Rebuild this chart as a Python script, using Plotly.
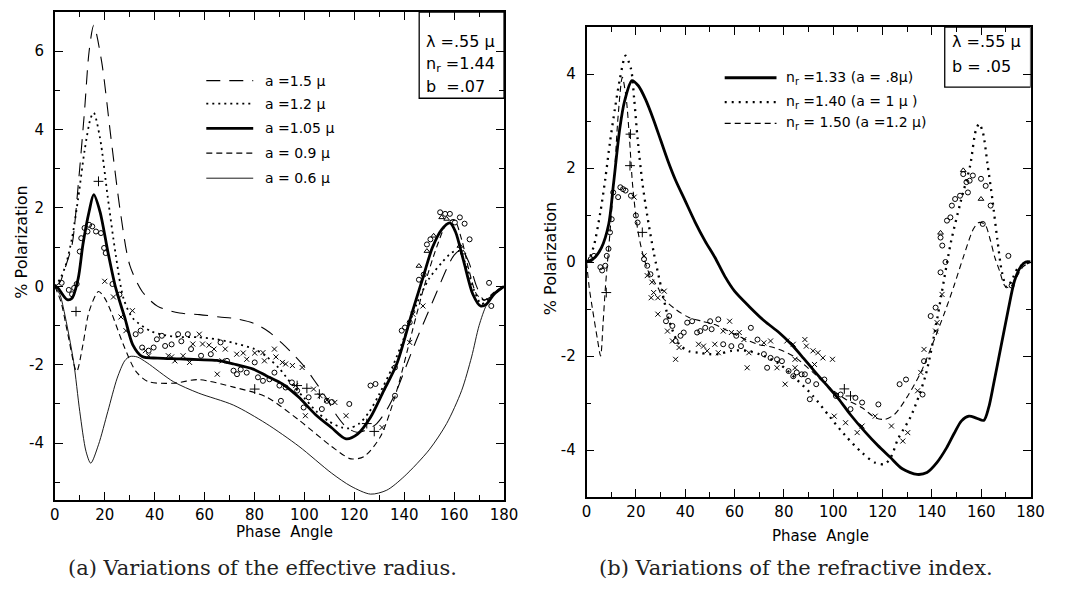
import plotly.graph_objects as go

W, H = 1077, 593

# ---------------- Left panel data: variations of effective radius ----------------
L15_x = [0, 2, 4, 6.9, 9.4, 11.9, 13.75, 15.6, 18.75, 22.5, 26.25, 30, 35, 41.25, 50, 58, 66, 72, 80, 86, 91, 95, 100, 104, 108.6, 113, 117, 121, 125, 129, 133, 137, 141, 145, 149, 153, 157, 160, 163, 166, 169, 172, 176, 180]
L15_y = [0, 0.1, 0.45, 1.06, 2.6, 4.47, 6.0, 6.66, 5.74, 3.79, 1.91, 0.55, -0.13, -0.51, -0.68, -0.72, -0.78, -0.82, -0.95, -1.17, -1.45, -1.7, -2.05, -2.4, -2.83, -3.3, -3.6, -3.72, -3.66, -3.5, -3.15, -2.65, -2.0, -1.35, -0.75, -0.15, 0.45, 0.8, 0.94, 0.6, 0.0, -0.35, -0.2, 0]

L12_x = [0, 2.2, 4.4, 6.9, 9.4, 11.9, 14.4, 15.6, 18.1, 21.25, 24.4, 27.5, 31.25, 38.75, 47.5, 57.5, 65, 72, 80, 85, 90, 95, 100, 105, 110, 115, 118, 122, 126, 130, 135, 140, 145, 150, 155, 159, 162, 165, 168, 171, 175, 180]
L12_y = [0, 0.2, 0.55, 1.23, 2.26, 3.45, 4.3, 4.43, 3.79, 2.26, 0.81, -0.3, -0.81, -1.15, -1.28, -1.3, -1.35, -1.45, -1.6, -1.8, -2.1, -2.5, -2.85, -3.2, -3.45, -3.6, -3.62, -3.5, -3.2, -2.75, -2.1, -1.3, -0.45, 0.2, 0.6, 0.86, 0.9, 0.5, -0.1, -0.45, -0.25, 0]

L105_x = [0, 1.25, 3, 5, 6.9, 9.4, 11.25, 13.75, 15.6, 18.1, 21.25, 24.4, 28.1, 31.25, 35, 41.25, 50, 57.5, 65, 71.7, 79.5, 84.7, 91.2, 97.8, 104.3, 110.8, 116.7, 121.3, 126.5, 131.8, 137, 143, 147.5, 151.3, 155, 158.3, 160.5, 163.8, 167.5, 170.6, 173, 176, 180]
L105_y = [0, -0.04, -0.2, -0.34, -0.3, 0.21, 1.06, 1.91, 2.34, 1.91, 0.89, -0.04, -0.81, -1.49, -1.79, -1.83, -1.85, -1.87, -1.89, -1.98, -2.11, -2.28, -2.49, -2.83, -3.26, -3.6, -3.89, -3.77, -3.34, -2.66, -1.98, -0.7, 0.22, 0.99, 1.45, 1.62, 1.4, 0.65, -0.2, -0.5, -0.45, -0.2, 0]

L09_x = [0, 2.5, 5, 8.75, 11.25, 13.75, 17.5, 20, 22.5, 27.5, 32.5, 37.5, 47.5, 57.5, 71.6, 84.7, 97.8, 110.8, 118.7, 123.9, 130.5, 137, 143, 148, 153, 157, 160, 163, 166, 169, 172, 176, 180]
L09_y = [0, -0.4, -1.15, -2.17, -1.49, -0.64, -0.13, -0.3, -0.64, -1.49, -2.17, -2.43, -2.47, -2.38, -2.57, -2.82, -3.41, -4.08, -4.4, -4.34, -3.83, -2.66, -1.2, 0.0, 1.0, 1.6, 1.7, 1.2, 0.4, -0.2, -0.35, -0.15, 0]

L06_x = [0, 2, 3.75, 7.5, 10, 12.5, 14.4, 17.5, 21.25, 25, 28, 30, 33, 37, 47.5, 57.5, 71.6, 84.7, 97.8, 110.8, 118.7, 126.5, 133, 140, 150, 157, 163, 167, 170, 173, 177, 180]
L06_y = [0, -0.2, -0.64, -1.91, -3.19, -4.21, -4.51, -4.04, -3.19, -2.34, -1.9, -1.79, -1.8, -1.95, -2.43, -2.72, -3.03, -3.5, -4.08, -4.76, -5.1, -5.3, -5.2, -4.85, -4.17, -3.5, -2.66, -1.8, -1.0, -0.47, -0.1, 0]

L_circ_x = [2.75, 5.6, 6.9, 7.75, 8.75, 10, 10.6, 11.9, 13.1, 13.75, 15, 16.5, 18.5, 19.75, 20.4, 23.1, 25.9, 32.4, 34.4, 35, 37.6, 39.6, 40.9, 42.9, 44.2, 46.8, 49.4, 50.7, 53.3, 54.6, 58.6, 62.5, 66.4, 69, 71.6, 73, 74.5, 76.9, 80.1, 81.4, 83.4, 86, 88, 90, 90.6, 92.5, 95, 97.1, 99.7, 101.7, 107, 109, 111, 118, 126.5, 128.5, 136.3, 136.3, 139, 140.3, 142.2, 145.9, 147.8, 149.1, 150.5, 154.4, 156.4, 158.3, 160.3, 162.3, 164.2, 166.2, 174, 174.9]
L_circ_y = [0.09, -0.09, -0.2, -0.04, 0.06, 0.89, 1.23, 1.49, 1.4, 1.57, 1.53, 1.4, 1.36, 0.98, 0.85, 0.06, -0.21, -1.22, -1.13, -1.56, -1.64, -1.56, -1.35, -1.26, -1.52, -1.48, -1.22, -1.4, -1.22, -1.6, -1.77, -1.73, -1.43, -1.9, -2.15, -2.24, -2.12, -2.2, -1.94, -2.32, -2.41, -2.37, -2.2, -2.53, -2.92, -2.58, -2.45, -2.66, -3.09, -2.83, -3.13, -2.92, -2.95, -3.0, -2.53, -2.49, -2.07, -2.79, -1.13, -1.05, -0.92, 0.17, 0.3, 1.07, 1.2, 1.89, 1.85, 1.85, 1.63, 1.76, 1.6, 1.2, 0.09, -0.5]
L_tri_x = [145.9, 149.1, 151.8, 155, 157, 162.3, 163.6]
L_tri_y = [0.52, 0.9, 1.29, 1.76, 1.72, 1.03, 0.86]
L_x_x = [20, 23.5, 26.5, 28.5, 31.1, 36.3, 37.6, 45.5, 46.8, 48.1, 51.4, 54, 55.3, 57.9, 59.2, 61.8, 63.8, 65.1, 67, 68.3, 72.9, 75.5, 76.9, 80.1, 83.4, 84, 88, 88.6, 91.2, 92.5, 95.2, 99.1, 96.5, 100.4, 103.7, 106.3, 109, 112.2, 116.7, 131.1, 142.2, 143.5, 147.5]
L_x_y = [0.13, -0.27, -0.78, -1.13, -0.62, -1.64, -1.77, -1.77, -1.8, -1.9, -1.77, -1.94, -1.47, -1.22, -1.47, -1.5, -1.6, -2.24, -1.9, -1.6, -1.73, -1.7, -1.86, -1.7, -1.69, -1.9, -1.6, -1.8, -1.94, -1.98, -2.02, -2.07, -2.53, -3.3, -2.62, -2.79, -2.9, -2.96, -3.3, -3.6, -1.43, -0.71, -0.5]
L_plus_x = [8.5, 17.5, 80.1, 97.1, 101, 106, 125, 128]
L_plus_y = [-0.64, 2.68, -2.62, -2.53, -2.6, -2.75, -3.5, -3.7]

# ---------------- Right panel data: variations of refractive index ----------------
R133_x = [0, 3, 6, 9, 10.9, 13.5, 15.4, 18.4, 21, 24, 27, 30, 33, 36, 40, 44, 48, 52, 56, 60, 66, 72, 78, 83, 88, 92, 97, 102, 107, 113, 118, 123, 128, 134, 138, 142, 146, 149, 152, 155, 158, 161, 163, 165, 168, 171, 173.5, 176, 178, 180]
R133_y = [0, 0.08, 0.3, 0.81, 1.65, 2.85, 3.42, 3.86, 3.75, 3.45, 3.05, 2.6, 2.15, 1.75, 1.3, 0.85, 0.45, 0.1, -0.3, -0.62, -0.95, -1.25, -1.5, -1.75, -2.05, -2.3, -2.6, -2.9, -3.25, -3.62, -3.9, -4.15, -4.4, -4.52, -4.48, -4.27, -3.95, -3.65, -3.38, -3.28, -3.32, -3.37, -3.1, -2.6, -1.8, -1.0, -0.4, -0.1, 0.0, 0.0]

R140_x = [0, 1, 3, 5.6, 7.6, 9.5, 11.5, 13.5, 15.8, 18, 19.3, 20.7, 22.6, 24.6, 27.2, 30.5, 33.5, 37.5, 41.5, 45.4, 49.5, 53.4, 58.7, 65.3, 71.9, 78.5, 85.2, 91.8, 98.4, 105, 111.7, 117, 120.9, 123.6, 126.2, 131.5, 137.4, 142, 144, 147.7, 151.6, 155.5, 157.8, 159.2, 160.7, 162.5, 164.5, 166.5, 168.4, 170.3, 172.3, 175, 180]
R140_y = [0, 0.06, 0.35, 1.06, 1.77, 2.55, 3.26, 3.89, 4.39, 4.11, 3.47, 2.62, 1.7, 0.99, 0.21, -0.6, -1.25, -1.75, -1.9, -1.93, -1.96, -1.96, -1.89, -1.89, -2.0, -2.18, -2.5, -2.85, -3.28, -3.7, -4.06, -4.27, -4.3, -4.13, -3.77, -3.28, -2.42, -1.25, -0.65, 0.42, 1.27, 2.05, 2.8, 2.94, 2.75, 2.1, 1.34, 0.49, -0.22, -0.54, -0.4, -0.12, 0]

R150_x = [0, 1.1, 2.4, 4.4, 5.7, 6.7, 7.7, 9.5, 11.5, 12.8, 14.5, 16.1, 17.4, 18.7, 20.7, 22.6, 25.2, 29.2, 30.9, 36.2, 41.5, 46.8, 52, 56, 61.3, 69.3, 75.9, 83.8, 91.8, 98.4, 105, 111.7, 117, 120.9, 124.9, 130.2, 135.5, 140, 145.2, 149, 152.9, 156.8, 159, 161.5, 163.5, 165.5, 167.5, 169.5, 171.5, 174, 177, 180]
R150_y = [0, -0.55, -1.0, -1.64, -2.0, -1.3, -0.5, 0.63, 2.05, 3.11, 3.93, 3.47, 2.62, 1.62, 0.7, 0.21, -0.22, -0.57, -0.76, -1.01, -1.18, -1.26, -1.33, -1.43, -1.57, -1.75, -1.82, -2.0, -2.35, -2.67, -2.92, -3.1, -3.31, -3.35, -3.24, -2.85, -2.35, -1.78, -1.07, -0.5, 0.13, 0.7, 0.84, 0.8, 0.5, 0.1, -0.2, -0.5, -0.55, -0.35, -0.1, 0]

R_circ_x = [1.7, 3, 5.6, 6.3, 7.6, 8.2, 8.9, 9.5, 10.2, 10.8, 12.8, 13.7, 14.8, 15.8, 18, 20, 20.7, 23.3, 24.6, 25.9, 32.2, 33.5, 34.8, 36.1, 38.1, 39.4, 40.8, 42.8, 44.8, 46.1, 48.1, 50.1, 50.7, 53.4, 55.4, 58.7, 60.7, 62.6, 66.6, 69.3, 71.9, 73.2, 74.6, 77.2, 79.2, 81.9, 83.8, 85.2, 87.2, 88.5, 89.8, 90.5, 93.1, 96.4, 101.1, 103, 107, 109, 111.7, 118.3, 126.9, 129.5, 136.2, 136.8, 139.5, 141.5, 143.5, 144.2, 145.5, 143.5, 146.1, 147.5, 148.1, 149.4, 151.4, 152.7, 154, 155.3, 154.6, 156.6, 159.9, 161.8, 163.8, 160.6, 171, 172.3]
R_circ_y = [0.06, 0.13, -0.11, -0.18, -0.08, 0.13, 0.28, 0.63, 0.91, 1.48, 1.38, 1.59, 1.55, 1.52, 1.41, 0.99, 0.84, 0.06, -0.08, -0.26, -1.26, -1.15, -1.36, -1.68, -1.57, -1.5, -1.29, -1.26, -1.5, -1.47, -1.4, -1.26, -1.43, -1.22, -1.75, -1.79, -1.57, -1.79, -1.4, -1.65, -1.96, -2.25, -2.04, -2.07, -2.11, -2.32, -2.43, -2.35, -2.39, -2.39, -2.53, -2.92, -2.6, -2.5, -2.85, -2.82, -3.13, -2.89, -2.99, -3.03, -2.6, -2.5, -2.82, -2.11, -1.15, -0.97, 0.52, 0.35, 0.0, -0.22, 0.88, 0.95, 1.2, 1.34, 1.41, 1.87, 1.7, 1.73, 1.48, 1.84, 1.77, 1.62, 1.2, 0.81, 0.13, -0.5]
R_tri_x = [152.7, 159.9, 143.5]
R_tri_y = [1.95, 1.34, 0.62]
R_x_x = [19.3, 23.3, 24.6, 26.5, 27.2, 26.2, 28.9, 31.5, 28.9, 32.8, 34.8, 36.1, 37.5, 45.4, 47.4, 48.9, 52, 53.4, 55.4, 58, 58.7, 61.9, 63.8, 65.1, 65.8, 71.9, 74.6, 77.2, 80.5, 81.2, 83.8, 84.5, 84.5, 88.5, 89.1, 91.8, 92.4, 93.8, 95.8, 99.7, 100.4, 105, 109.7, 111.7, 117, 123.6, 128.2, 130.2, 134.2, 135.5, 136.8, 141.5, 142.1, 144.1]
R_x_y = [1.38, 0.13, -0.29, -0.43, -0.65, -0.76, -0.76, -0.62, -1.11, -1.47, -1.68, -2.07, -1.82, -1.75, -1.79, -1.89, -1.75, -1.93, -1.47, -1.26, -1.5, -1.5, -1.65, -2.25, -1.93, -1.72, -1.68, -2.25, -2.6, -1.68, -1.75, -2.07, -2.25, -1.65, -1.79, -1.89, -2.18, -1.93, -2.04, -2.07, -3.28, -3.42, -3.63, -3.49, -3.28, -3.49, -3.81, -3.63, -2.74, -2.35, -1.86, -1.47, -1.29, -0.69]
R_plus_x = [8, 17.8, 17.6, 22.6, 104.5, 107]
R_plus_y = [-0.65, 2.72, 2.05, 0.63, -2.7, -2.85]

# tick labels
X_TICKS = [0, 20, 40, 60, 80, 100, 120, 140, 160, 180]
X_TEXT = ["0", "20", "40", "60", "80", "100", "120", "140", "160", "180"]
YL_TICKS = [-4, -2, 0, 2, 4, 6]
YL_TEXT = ["-4", "-2", "0", "2", "4", "6"]
YR_TICKS = [-4, -2, 0, 2, 4]
YR_TEXT = ["-4", "-2", "0", "2", "4"]

LEFT_LEG = ["a =1.5 μ", "a =1.2 μ", "a =1.05 μ", "a = 0.9 μ", "a = 0.6 μ"]
RIGHT_LEG = ["n<sub>r</sub> =1.33 (a = .8μ)", "n<sub>r</sub> =1.40 (a = 1 μ )", "n<sub>r</sub> = 1.50 (a =1.2 μ)"]

SANS = "DejaVu Sans"
SERIF = "DejaVu Serif"

# ---------------- styles ----------------
sty_long = dict(color="black", width=1.1, dash="14px,9px")
sty_dot = dict(color="black", width=1.8, dash="2px,4px")
sty_thick = dict(color="black", width=2.8)
sty_med = dict(color="black", width=1.1, dash="6px,4px")
sty_thin = dict(color="black", width=0.9)
sty_rdot = dict(color="black", width=2.3, dash="2px,5px")

fig = go.Figure()

def line(x, y, style, xa, ya):
    fig.add_trace(go.Scatter(x=x, y=y, mode="lines", line=dict(shape="spline", smoothing=0.8, **style),
                             xaxis=xa, yaxis=ya, showlegend=False, hoverinfo="skip"))

def marks(x, y, sym, size, xa, ya):
    fig.add_trace(go.Scatter(x=x, y=y, mode="markers",
                             marker=dict(symbol=sym, size=size, color="black", line=dict(color="black", width=1)),
                             xaxis=xa, yaxis=ya, showlegend=False, hoverinfo="skip"))

line(L15_x, L15_y, sty_long, "x", "y")
line(L12_x, L12_y, sty_dot, "x", "y")
line(L105_x, L105_y, sty_thick, "x", "y")
line(L09_x, L09_y, sty_med, "x", "y")
line(L06_x, L06_y, sty_thin, "x", "y")
marks(L_circ_x, L_circ_y, "circle-open", 5, "x", "y")
marks(L_tri_x, L_tri_y, "triangle-up-open", 5, "x", "y")
marks(L_x_x, L_x_y, "x-thin-open", 5, "x", "y")
marks(L_plus_x, L_plus_y, "cross-thin-open", 7, "x", "y")

line(R133_x, R133_y, sty_thick, "x2", "y2")
line(R140_x, R140_y, sty_rdot, "x2", "y2")
line(R150_x, R150_y, sty_med, "x2", "y2")
marks(R_circ_x, R_circ_y, "circle-open", 5, "x2", "y2")
marks(R_tri_x, R_tri_y, "triangle-up-open", 5, "x2", "y2")
marks(R_x_x, R_x_y, "x-thin-open", 5, "x2", "y2")
marks(R_plus_x, R_plus_y, "cross-thin-open", 7, "x2", "y2")

def xaxis(dom, anchor):
    return dict(domain=dom, anchor=anchor, range=[0, 180], showline=True, linecolor="black", linewidth=1.5,
                mirror="ticks", ticks="inside", ticklen=8, tickwidth=1.3, tickcolor="black",
                tickvals=X_TICKS, ticktext=X_TEXT,
                minor=dict(ticks="inside", ticklen=5, tickwidth=1.2, tickcolor="black", dtick=10, tick0=0, showgrid=False),
                showgrid=False, zeroline=False, fixedrange=True,
                tickfont=dict(family=SANS, size=15, color="black"), ticklabelstandoff=0)

def yaxis(dom, anchor, rng, tv, tt):
    return dict(domain=dom, anchor=anchor, range=rng, showline=True, linecolor="black", linewidth=1.5,
                mirror="ticks", ticks="inside", ticklen=8, tickwidth=1.3, tickcolor="black",
                tickvals=tv, ticktext=tt,
                minor=dict(ticks="inside", ticklen=5, tickwidth=1.2, tickcolor="black", dtick=1, tick0=0, showgrid=False),
                showgrid=False, zeroline=False, fixedrange=True,
                tickfont=dict(family=SANS, size=15, color="black"), ticklabelstandoff=6)

LX = [50.7 / W, 508 / W]
LY = [1 - 500 / H, 1 - 12 / H]
RX = [592 / W, 1044 / W]
RY = [1 - 497 / H, 1 - 27 / H]

fig.update_layout(
    width=W, height=H, margin=dict(l=0, r=0, t=0, b=0),
    paper_bgcolor="white", plot_bgcolor="white", showlegend=False,
    xaxis=xaxis(LX, "y"), yaxis=yaxis(LY, "x", [-5.45, 7.0], YL_TICKS, YL_TEXT),
    xaxis2=xaxis(RX, "y2"), yaxis2=yaxis(RY, "x2", [-5, 5], YR_TICKS, YR_TEXT),
)

shapes = []
annots = []

# legend samples (left)
leg_left_y = [5.25, 4.66, 4.03, 3.40, 2.76]
leg_left_sty = [sty_long, sty_dot, sty_thick, sty_med, sty_thin]
for yy, st, txt in zip(leg_left_y, leg_left_sty, LEFT_LEG):
    shapes.append(dict(type="line", xref="x", yref="y", x0=60.7, x1=79.5, y0=yy, y1=yy, line=st))
    annots.append(dict(xref="x", yref="y", x=83.5, y=yy, text=txt, showarrow=False, xanchor="left",
                       yanchor="middle", font=dict(family=SANS, size=14, color="black")))

# legend samples (right)
leg_right_y = [3.92, 3.4, 2.95]
leg_right_sty = [sty_thick, sty_rdot, sty_med]
for yy, st, txt in zip(leg_right_y, leg_right_sty, RIGHT_LEG):
    shapes.append(dict(type="line", xref="x2", yref="y2", x0=56, x1=77, y0=yy, y1=yy, line=st))
    annots.append(dict(xref="x2", yref="y2", x=80, y=yy, text=txt, showarrow=False, xanchor="left",
                       yanchor="middle", font=dict(family=SANS, size=14, color="black")))

# parameter boxes
shapes.append(dict(type="rect", xref="x", yref="y", x0=146, x1=180, y0=4.8, y1=7.0,
                   line=dict(color="black", width=1.3)))
for yy, txt in zip([6.25, 5.65, 5.1], ["λ =.55 μ", "n<sub>r</sub> =1.44", "b  =.07"]):
    annots.append(dict(xref="x", yref="y", x=148, y=yy, text=txt, showarrow=False, xanchor="left",
                       yanchor="middle", font=dict(family=SANS, size=16, color="black")))
shapes.append(dict(type="rect", xref="x2", yref="y2", x0=145.2, x1=180, y0=3.72, y1=5.0,
                   line=dict(color="black", width=1.3)))
for yy, txt in zip([4.7, 4.15], ["λ =.55 μ", "b = .05"]):
    annots.append(dict(xref="x2", yref="y2", x=147.5, y=yy, text=txt, showarrow=False, xanchor="left",
                       yanchor="middle", font=dict(family=SANS, size=16, color="black")))

# axis titles
for xc, yc in [(285 / W, 532), (830 / W, 536)]:
    annots.append(dict(xref="paper", yref="paper", x=xc, y=1 - yc / H, text="Phase  Angle", showarrow=False,
                       xanchor="center", yanchor="middle", font=dict(family=SANS, size=15, color="black")))
for xc, yc in [(17 / W, 242), (555 / W, 259)]:
    annots.append(dict(xref="paper", yref="paper", x=xc, y=1 - yc / H, text="% Polarization", showarrow=False,
                       textangle=-90, xanchor="center", yanchor="middle", font=dict(family=SANS, size=16, color="black")))

# captions
annots.append(dict(xref="paper", yref="paper", x=262 / W, y=1 - 568 / H, text="(a) Variations of the effective radius.",
                   showarrow=False, xanchor="center", yanchor="middle", font=dict(family=SERIF, size=21, color="#222")))
annots.append(dict(xref="paper", yref="paper", x=805 / W, y=1 - 568 / H, text="(b) Variations of the refractive index.",
                   showarrow=False, xanchor="center", yanchor="middle", font=dict(family=SERIF, size=21, color="#222")))

fig.update_layout(shapes=shapes, annotations=annots)
fig.write_html("out.html")
